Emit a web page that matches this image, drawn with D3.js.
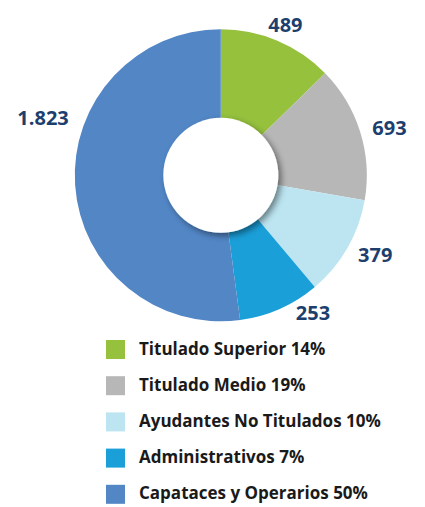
<!DOCTYPE html>
<html><head><meta charset="utf-8">
<script src="https://cdn.jsdelivr.net/npm/d3@7"></script>
<style>html,body{margin:0;padding:0;background:#fff;}svg{display:block;}</style>
</head><body>
<script>
const categories = ["Titulado Superior", "Titulado Medio", "Ayudantes No Titulados", "Administrativos", "Capataces y Operarios"];
const values = [489, 693, 379, 253, 1823];
const valueLabels = ["489", "693", "379", "253", "1.823"];
const percents = [14, 19, 10, 7, 50];
// slice shares as drawn in the reference (degrees of arc)
const sliceShares = [45.6, 54.2, 40.1, 32.5, 187.6];
const colors = ["#95c13d", "#b7b7b7", "#bce5f1", "#1a9fd9", "#5286c5"];

const W = 425, H = 507;
const cx = 220.8, cy = 175.3, R = 146, r = 57.5;
// label placement: angle (deg from top, clockwise) and distance from centre
const labelAngle = [23.2, 74.2, 117.3, 146.2, 287.9];
const labelDist = [164, 175.3, 173.8, 165.7, 186.8];

const svg = d3.select("body").append("svg").attr("width", W).attr("height", H);

const defs = svg.append("defs");
const f = defs.append("filter").attr("id", "sh").attr("x", "-30%").attr("y", "-30%").attr("width", "160%").attr("height", "160%");
f.append("feDropShadow").attr("dx", 3).attr("dy", 3).attr("stdDeviation", 3).attr("flood-color", "#000").attr("flood-opacity", 0.45);

const pie = d3.pie().sort(null).value((d, i) => sliceShares[i]);
const arcs = pie(values);
const arc = d3.arc().innerRadius(0).outerRadius(R);
const g = svg.append("g").attr("transform", `translate(${cx},${cy})`);
g.selectAll("path.slice").data(arcs).enter().append("path")
  .attr("class", "slice")
  .attr("d", arc)
  .attr("fill", (d, i) => colors[i]);

g.append("circle").attr("r", r).attr("fill", "#fff").attr("filter", "url(#sh)");

g.selectAll("text.val").data(arcs).enter().append("text")
  .attr("class", "val")
  .attr("transform", (d, i) => {
    const a = labelAngle[i] * Math.PI / 180;
    return `translate(${Math.sin(a) * labelDist[i]},${-Math.cos(a) * labelDist[i]})`;
  })
  .attr("text-anchor", "middle")
  .attr("dy", "0.36em")
  .attr("font-family", "'Open Sans', sans-serif")
  .attr("font-weight", 700)
  .attr("font-size", 20)
  .attr("fill", "#1d3f6e")
  .text((d, i) => valueLabels[i]);

// legend
const leg = svg.append("g").attr("transform", "translate(106,340)");
const rows = leg.selectAll("g").data(categories).enter().append("g")
  .attr("transform", (d, i) => `translate(0,${i * 36.2})`);
rows.append("rect").attr("width", 19).attr("height", 19).attr("fill", (d, i) => colors[i]);
rows.append("text").attr("x", 33).attr("y", 14.5)
  .attr("font-family", "'Open Sans', sans-serif")
  .attr("font-weight", 700)
  .attr("font-size", 17)
  .attr("fill", "#1a1a1a")
  .text((d, i) => `${d} ${percents[i]}%`);
</script>
</body></html>
